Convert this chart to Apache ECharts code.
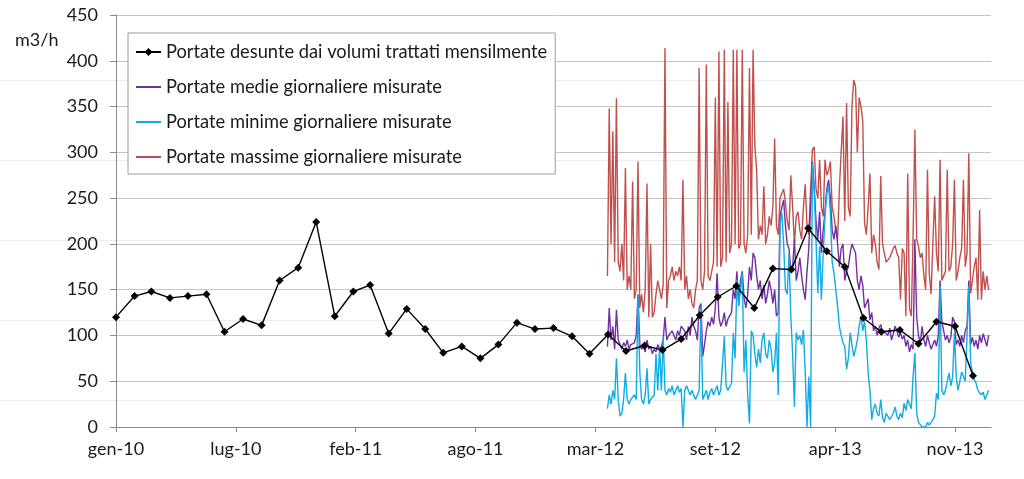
<!DOCTYPE html>
<html><head><meta charset="utf-8">
<script src="https://cdn.jsdelivr.net/npm/echarts@6/dist/echarts.min.js"></script>
<style>html,body{margin:0;padding:0;background:#fff}#c{width:1024px;height:479px}</style>
</head><body><div id="c"></div>
<script>
// ---------- DATA ----------
const seriesNames = [
  'Portate desunte dai volumi trattati mensilmente',
  'Portate medie giornaliere misurate',
  'Portate minime giornaliere misurate',
  'Portate massime giornaliere misurate'
];
const xTickLabels = ['gen-10','lug-10','feb-11','ago-11','mar-12','set-12','apr-13','nov-13'];
const axisOrigin = [2010, 0, 1];      // gen-10 = day 0
const xTickStepDays = 200;
const xEndDays = 1460;
const yUnit = 'm3/h';

// monthly series (1st of each month, from Jan 2010)
const monthlyStart = [2010, 0];
const monthlyValues = [
  120,143,148,141,143,145,104,118,111,160,174,224,
  121,148,155,102,129,107, 81, 88, 75, 90,114,107,
  108, 99, 80,101, 83, 89, 84, 96,122,142,154,130,
  173,172,217,192,175,119,104,106, 91,115,110, 56
];

// daily measured series, one reading every 3 days starting 31 Mar 2012
const dailyStart = [2012, 2, 31];
const dailyStepDays = 3;
const maxValues = [
  165,348,200,323,180,359,180,170,200,160,
  283,150,165,150,268,140,150,290,130,145,
  125,150,266,120,200,120,125,145,160,150,
  140,155,414,130,160,165,175,160,170,165,
  175,160,270,150,165,140,150,135,130,150,
  160,392,160,150,170,396,165,160,170,180,
  360,175,410,175,185,412,180,355,190,200,
  412,200,412,195,200,412,200,190,210,392,
  210,412,306,280,205,220,210,263,200,210,
  230,220,240,315,220,210,250,255,260,245,
  225,215,275,240,200,230,235,215,205,240,
  265,220,210,260,303,306,260,250,292,240,
  230,292,275,280,290,240,230,215,205,260,
  300,339,225,354,240,230,350,379,372,300,
  360,350,335,223,210,240,277,190,210,200,
  180,172,274,200,190,180,180,185,190,195,
  198,190,185,139,195,190,121,277,130,121,
  208,325,205,197,185,190,165,150,281,168,
  145,200,252,190,170,292,160,165,170,281,
  170,175,200,270,160,170,185,195,270,175,
  190,299,146,160,175,185,139,237,139,170,
  150,165,150
];
const meanValues = [
   88,130, 95,110, 85,128, 95, 90, 85, 92,
   88, 95, 85, 90, 88, 92,100,145, 90, 85,
   88, 82, 95, 85, 88, 80, 85, 82, 90, 85,
   88, 95,120, 95,100, 98,105,100, 95,105,
  100,110,108,105, 95,110,100,120,110,105,
   95,130,135, 77, 90,105,115,110,120,112,
  130,168,120,110,115,125,110,118,120,125,
  150,140,170,135,160,170,140,130,145,175,
  160,190,185,165,150,160,140,155,135,145,
  160,150,135,150,121,125,230,240,248,220,
  200,195,170,175,205,160,170,185,165,150,
  139,170,195,240,290,262,225,205,235,190,
  215,235,260,270,250,215,205,220,200,175,
  195,200,160,170,175,190,200,195,190,160,
  150,165,155,130,135,140,117,125,105,110,
  100,108,112,102,105,105,100,108, 95,102,
  110,105, 98,103, 96,100, 88, 95, 82, 90,
   85,205,120,100, 92,110, 95, 88,100, 92,
   85, 90, 95, 88,100,160,115,105, 95,100,
   92, 98,120,115, 90, 95, 88,100, 92,105,
  110,160, 90, 98, 88, 95, 85,100, 92,102,
   95, 88,100
];
const minValues = [
   20, 35, 25, 40, 30, 75, 30, 12, 15, 30,
   59, 30, 25, 30, 28, 35, 30,143, 60, 30,
   25, 35, 64, 25, 30, 30, 35, 80, 40, 88,
   40, 99, 40, 35, 42, 38, 45, 35, 40, 45,
   38, 42,  0, 40, 45, 40, 35, 40, 35, 30,
   35, 40,130, 30, 35, 40, 30, 38, 42, 35,
   40, 45, 35, 40, 38, 99, 45, 40, 42, 48,
  103, 75,161,132,150,168, 60, 95, 35,  4,
  105,100, 80, 65, 85, 70, 95,103, 80, 75,
   95, 85, 60, 70,103, 35,223,234,200,150,
  145,190,120, 80, 22,103, 95,100, 90,106,
   60,  0, 55,  0,288,259,205,146,197,139,
  190,230,255,263,234,180,168,150,132,110,
  100, 92, 88, 63, 75,103, 90, 77, 85, 95,
  110,121,105,115, 95, 60, 40,  8, 20, 25,
   15, 12, 30, 10,  5, 15, 15,  8, 10, 15,
   22, 12,  8, 15, 10, 26, 18, 30, 25, 20,
   55, 81, 15,  5,  3,  0,  2,  0,  5,  2,
    0,  8, 12, 37, 30,154, 40, 35, 40, 50,
   59, 45, 55,103, 55, 40, 50, 60, 55, 50,
  100,154, 70, 60, 52, 48, 40, 38, 35, 38,
   30, 35, 40
];

// ---------- BUILD ----------
const DAY = 86400000;
const origin = Date.UTC(axisOrigin[0], axisOrigin[1], axisOrigin[2]);
const dayOf = (y, m, d) => Math.round((Date.UTC(y, m, d) - origin) / DAY);
const monthlyData = monthlyValues.map((v, i) => [dayOf(monthlyStart[0], monthlyStart[1] + i, 1), v]);
const d0 = dayOf(dailyStart[0], dailyStart[1], dailyStart[2]);
const daily = arr => arr.map((v, i) => [d0 + i * dailyStepDays, v]);

const FONT = 'Lato';
const chart = echarts.init(document.getElementById('c'), null, {renderer: 'canvas'});
const artifactLines = [80, 160, 240, 320, 400].map(y => ({
  type: 'line', z: -1, silent: true,
  shape: {x1: 0, y1: y + 0.5, x2: 1024, y2: y + 0.5},
  style: {stroke: '#ececec', lineWidth: 1}
}));
chart.setOption({
  animation: false,
  backgroundColor: '#fff',
  textStyle: {fontFamily: FONT},
  grid: {left: 116, right: 33, top: 15, bottom: 52, containLabel: false},
  graphic: artifactLines.concat([{
    type: 'text', left: 15, top: 31, z: 10,
    style: {text: yUnit, font: '18px ' + FONT, fill: '#1a1a1a'}
  }]),
  legend: {
    orient: 'vertical', left: 128, top: 33,
    padding: [9, 8, 7, 7], itemGap: 15, itemWidth: 25, itemHeight: 10,
    borderColor: '#9a9a9a', borderWidth: 1, backgroundColor: '#fff',
    textStyle: {fontSize: 18.3, fontFamily: FONT, color: '#1a1a1a', lineHeight: 20},
    data: [
      {name: seriesNames[0]},
      {name: seriesNames[1], itemStyle: {opacity: 0}},
      {name: seriesNames[2], itemStyle: {opacity: 0}},
      {name: seriesNames[3], itemStyle: {opacity: 0}}
    ]
  },
  xAxis: {
    type: 'value', min: 0, max: xEndDays, interval: xTickStepDays,
    axisLine: {lineStyle: {color: '#888', width: 1}},
    axisTick: {show: true, length: 5, lineStyle: {color: '#888'}},
    splitLine: {show: false},
    axisLabel: {
      margin: 13, fontSize: 18, fontFamily: FONT, color: '#1a1a1a',
      formatter: v => { const k = Math.round(v / xTickStepDays); return (v % xTickStepDays === 0 && xTickLabels[k]) ? xTickLabels[k] : ''; },
      showMaxLabel: false
    }
  },
  yAxis: {
    type: 'value', min: 0, max: 450, interval: 50,
    axisLine: {show: true, lineStyle: {color: '#888', width: 1}},
    axisTick: {show: true, length: 6, lineStyle: {color: '#888'}},
    splitLine: {show: true, lineStyle: {color: '#c4c4c4', width: 1}},
    axisLabel: {margin: 18, fontSize: 18, fontFamily: FONT, color: '#1a1a1a'}
  },
  series: [
    {name: seriesNames[0], type: 'line', data: monthlyData, z: 6,
     symbol: 'diamond', symbolSize: 8, showSymbol: true,
     itemStyle: {color: '#000'}, lineStyle: {color: '#000', width: 1.4}},
    {name: seriesNames[1], type: 'line', data: daily(meanValues), z: 4,
     symbol: 'none', showSymbol: false,
     itemStyle: {color: '#7030A0'}, lineStyle: {color: '#7030A0', width: 1.4}},
    {name: seriesNames[2], type: 'line', data: daily(minValues), z: 5,
     symbol: 'none', showSymbol: false,
     itemStyle: {color: '#10ACE6'}, lineStyle: {color: '#10ACE6', width: 1.4}},
    {name: seriesNames[3], type: 'line', data: daily(maxValues), z: 3,
     symbol: 'none', showSymbol: false,
     itemStyle: {color: '#C0504D'}, lineStyle: {color: '#C0504D', width: 1.4}}
  ]
});
</script></body></html>
